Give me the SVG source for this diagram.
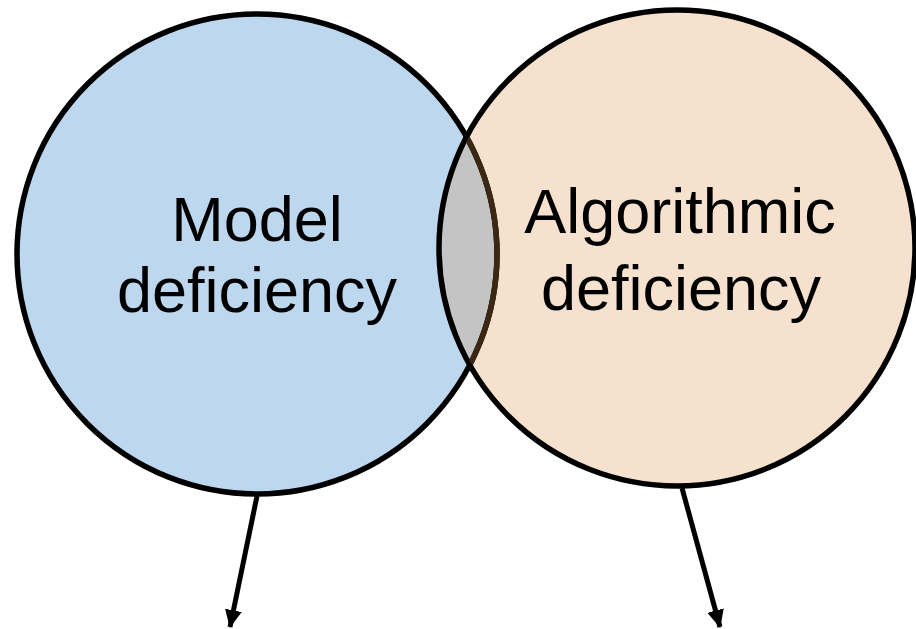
<svg xmlns="http://www.w3.org/2000/svg" width="916" height="629" viewBox="0 0 916 629">
<style>
.lbl{font-family:"Liberation Sans",Arial,sans-serif;font-size:63px;fill:#000;text-anchor:middle}
.ring{fill:none;stroke:#000;stroke-width:5.5}
.conn{stroke:#000;stroke-width:5;fill:none}
</style>
<defs>
<marker id="ah" viewBox="0 0 18 18" refX="17" refY="9" markerWidth="18" markerHeight="18" orient="auto" markerUnits="userSpaceOnUse">
<path d="M0,0.5 L18,9 L0,17.5 Z" fill="#000"/>
</marker>
<clipPath id="clipL"><circle cx="257" cy="254" r="240"/></clipPath>
<clipPath id="clipR"><circle cx="677" cy="248" r="236"/></clipPath>
</defs>
<rect width="916" height="629" fill="#fff"/>
<g id="node-model">
<circle cx="257" cy="254" r="240" fill="#bdd7ee"/>
</g>
<g id="node-algorithmic">
<circle cx="677" cy="248" r="238" fill="#f5e1cd"/>
</g>
<g id="overlap">
<circle cx="677" cy="248" r="238" fill="#c4c4c4" clip-path="url(#clipL)"/>
</g>
<circle class="ring" cx="257" cy="254" r="240"/>
<circle class="ring" cx="677" cy="248" r="238"/>
<circle cx="257" cy="254" r="240" fill="none" stroke="#3a2814" stroke-width="5.5" clip-path="url(#clipR)"/>
<text class="lbl" x="257" y="241">Model</text>
<text class="lbl" x="257" y="312">deficiency</text>
<text class="lbl" x="680" y="233">Algorithmic</text>
<text class="lbl" x="681" y="310">deficiency</text>
<g id="connectors">
<line class="conn" x1="257" y1="496" x2="230" y2="627" marker-end="url(#ah)"/>
<line class="conn" x1="682" y1="488" x2="720" y2="627" marker-end="url(#ah)"/>
</g>
</svg>
